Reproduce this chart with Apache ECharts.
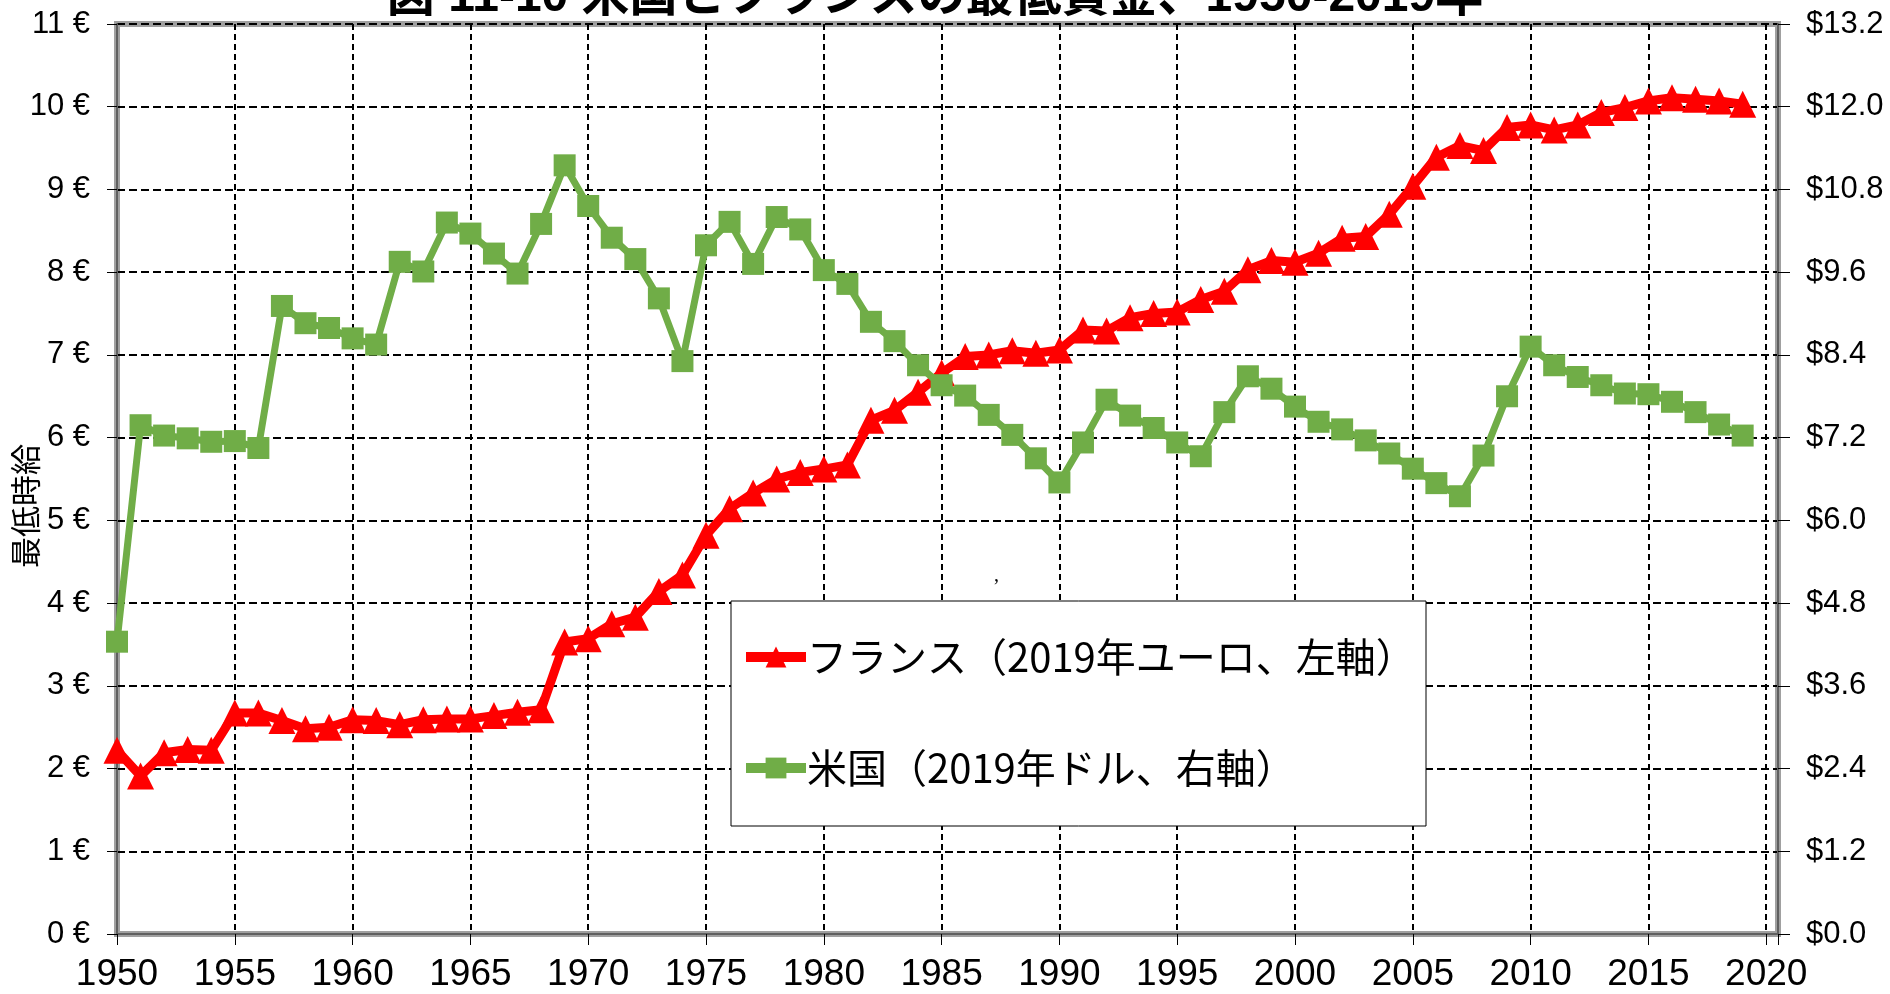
<!DOCTYPE html>
<html>
<head>
<meta charset="utf-8">
<script src="https://cdn.jsdelivr.net/npm/echarts@6/dist/echarts.min.js"></script>
<style>
  html, body { margin: 0; padding: 0; background: #fff; }
  #chart { width: 1890px; height: 994px; }
</style>
</head>
<body>
<div id="chart"></div>
<script>
// 年
const years = [
  1950, 1951, 1952, 1953, 1954, 1955, 1956, 1957, 1958, 1959,
  1960, 1961, 1962, 1963, 1964, 1965, 1966, 1967, 1968, 1969,
  1970, 1971, 1972, 1973, 1974, 1975, 1976, 1977, 1978, 1979,
  1980, 1981, 1982, 1983, 1984, 1985, 1986, 1987, 1988, 1989,
  1990, 1991, 1992, 1993, 1994, 1995, 1996, 1997, 1998, 1999,
  2000, 2001, 2002, 2003, 2004, 2005, 2006, 2007, 2008, 2009,
  2010, 2011, 2012, 2013, 2014, 2015, 2016, 2017, 2018, 2019
]
// フランス（2019年ユーロ）左軸
const franceEur = [
  2.22, 1.91, 2.19, 2.23, 2.22, 2.67, 2.67, 2.58, 2.48, 2.50,
  2.59, 2.58, 2.53, 2.59, 2.60, 2.60, 2.64, 2.68, 2.71, 3.53,
  3.57, 3.75, 3.83, 4.14, 4.34, 4.82, 5.14, 5.33, 5.50, 5.58,
  5.62, 5.67, 6.21, 6.33, 6.55, 6.78, 6.98, 7.00, 7.05, 7.02,
  7.06, 7.30, 7.29, 7.45, 7.50, 7.52, 7.67, 7.77, 8.03, 8.14,
  8.12, 8.23, 8.41, 8.43, 8.70, 9.04, 9.39, 9.53, 9.47, 9.75,
  9.78, 9.72, 9.78, 9.93, 9.99, 10.07, 10.11, 10.09, 10.07, 10.03
]
// 米国（2019年ドル）右軸
const usUsd = [
  4.24, 7.38, 7.23, 7.19, 7.14, 7.15, 7.05, 9.11, 8.86, 8.79,
  8.64, 8.55, 9.75, 9.61, 10.32, 10.16, 9.87, 9.58, 10.30, 11.15,
  10.56, 10.10, 9.79, 9.22, 8.31, 9.99, 10.33, 9.72, 10.40, 10.22,
  9.63, 9.43, 8.88, 8.60, 8.25, 7.96, 7.81, 7.53, 7.24, 6.90,
  6.55, 7.13, 7.75, 7.52, 7.34, 7.13, 6.93, 7.57, 8.09, 7.91,
  7.65, 7.43, 7.32, 7.16, 6.97, 6.75, 6.54, 6.35, 6.94, 7.80,
  8.52, 8.25, 8.08, 7.96, 7.84, 7.83, 7.72, 7.57, 7.39, 7.23
]
const seriesNames = ['フランス（2019年ユーロ、左軸）', '米国（2019年ドル、右軸）']
const titleText = '図 11-10 米国とフランスの最低賃金、1950-2019年'

const latin = '"Liberation Sans", Arial, sans-serif'
const jp = '"Noto Sans CJK JP", sans-serif'

const myChart = echarts.init(document.getElementById('chart'))

let option = {
  animation: false,
  backgroundColor: '#fff',
  title: {
    text: titleText,
    left: 930,
    textAlign: 'center',
    top: -31,
    textStyle: {
      fontSize: 48,
      fontWeight: 'bold',
      color: '#000',
      fontFamily: '"Liberation Sans", "Noto Sans CJK JP", sans-serif'
    }
  },
  grid: {
    left: 117,
    right: 112,
    top: 24,
    bottom: 60,
    outerBoundsMode: 'none',
    containLabel: false,
    show: true,
    borderColor: '#a0a0a0',
    borderWidth: 6,
    backgroundColor: 'transparent'
  },
  legend: {
    orient: 'vertical',
    left: 741,
    top: 635,
    itemGap: 67,
    itemWidth: 60,
    itemHeight: 26,
    padding: 0,
    z: 20,
    data: seriesNames,
    lineStyle: { width: 10 },
    textStyle: {
      fontSize: 40,
      lineHeight: 44,
      color: '#000',
      fontFamily: jp,
      padding: [0, 0, 0, -4]
    }
  },
  graphic: [
    {
      type: 'rect',
      z: 15,
      shape: { x: 731, y: 601, width: 695, height: 225 },
      style: { fill: '#fff', stroke: '#000', lineWidth: 1 }
    },
    {
      type: 'text',
      z: 15,
      style: { text: ',', x: 994, y: 566, font: '20px "Liberation Serif", serif', fill: '#000' }
    }
  ],
  xAxis: {
    type: 'value',
    min: 1950,
    max: 2020.5,
    interval: 5,
    axisLine: { show: true, lineStyle: { color: '#606060', width: 2 } },
    axisTick: { show: true, length: 11, lineStyle: { color: '#000', width: 1 } },
    axisLabel: {
      margin: 22,
      fontSize: 37,
      color: '#000',
      fontFamily: latin,
      formatter: function (v) {
        return v % 5 === 0 ? String(v) : ''
      }
    },
    splitLine: { show: true, lineStyle: { color: '#000', width: 2, type: [6, 4] } }
  },
  yAxis: [
    {
      type: 'value',
      min: 0,
      max: 11,
      interval: 1,
      name: '最低時給',
      nameLocation: 'middle',
      nameGap: 76,
      nameRotate: 90,
      nameMoveOverlap: false,
      nameTextStyle: { fontSize: 31, color: '#000', fontFamily: jp, padding: [0, 54, 0, 0] },
      axisLine: { show: true, lineStyle: { color: '#606060', width: 2 } },
      axisTick: { show: true, inside: false, length: 10, lineStyle: { color: '#000', width: 1 } },
      axisLabel: {
        margin: 27,
        fontSize: 31,
        color: '#000',
        fontFamily: latin,
        formatter: function (v) { return v + ' €' }
      },
      splitLine: { show: true, lineStyle: { color: '#000', width: 2, type: [8, 4] } }
    },
    {
      type: 'value',
      min: 0,
      max: 13.2,
      interval: 1.2,
      position: 'right',
      axisLine: { show: true, lineStyle: { color: '#606060', width: 2 } },
      axisTick: { show: true, length: 12, lineStyle: { color: '#000', width: 1 } },
      axisLabel: {
        margin: 28,
        fontSize: 31,
        color: '#000',
        fontFamily: latin,
        formatter: function (v) { return '$' + v.toFixed(1) }
      },
      splitLine: { show: false }
    }
  ],
  series: [
    {
      name: seriesNames[0],
      type: 'line',
      yAxisIndex: 0,
      data: years.map((y, i) => [y, franceEur[i]]),
      symbol: 'triangle',
      symbolSize: 27,
      itemStyle: { color: '#ff0000' },
      lineStyle: { color: '#ff0000', width: 9 },
      z: 3
    },
    {
      name: seriesNames[1],
      type: 'line',
      yAxisIndex: 1,
      data: years.map((y, i) => [y, usUsd[i]]),
      symbol: 'rect',
      symbolSize: 22,
      itemStyle: { color: '#70ad47' },
      lineStyle: { color: '#70ad47', width: 7 },
      z: 4
    }
  ]
}
option && myChart.setOption(option)
</script>
</body>
</html>
